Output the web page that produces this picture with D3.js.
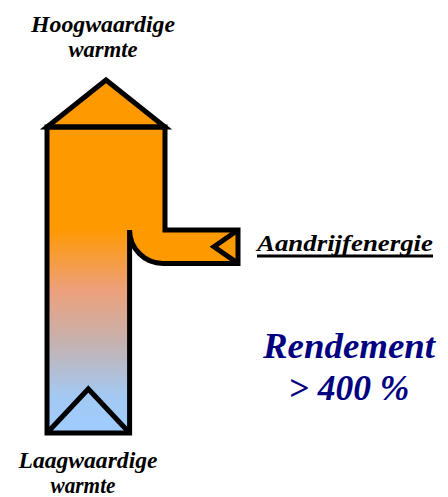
<!DOCTYPE html>
<html lang="en">
<head>
<meta charset="utf-8">
<title>Warmtepomp</title>
<style>
body{
  margin: 0;
  background: #fff;
}
svg text{
  font-family: "Liberation Serif", "Times New Roman", serif;
  font-weight: bold;
  font-style: italic;
  text-anchor: middle;
}
</style>
<script src="https://d3js.org/d3.v7.min.js"></script>
</head>
<body>
<div id="chart"></div>
<script>
// flow values (relative units)
var flowNames = ['Laagwaardige warmte', 'Aandrijfenergie', 'Hoogwaardige warmte'];
var flowValues = [7, 3, 10];
var efficiencyLabel = ['Rendement', '> 400 %'];

var width = 448, height = 497;

var svg = d3.select('#chart')
  .append('svg')
  .attr('width', width)
  .attr('height', height);

/* horizontal scale: flow units -> pixels */
var xScale = d3.scaleLinear()
  .domain([0, flowValues[2]])
  .range([47, 165]);

/* vertical positions of the diagram parts */
var yScale = d3.scaleLinear()
  .domain([0, 1])
  .range([127, 433]);

var xLeft = xScale(0),
    xSplit = xScale(flowValues[0]),
    xRight = xScale(flowValues[0] + flowValues[1]),
    armTop = 230,
    armH = xRight - xSplit - 2,
    armBot = armTop + armH,
    armEnd = 238,
    yTop = yScale(0),
    yBot = yScale(1);

// gradient from hot to cold
var defs = svg.append('defs');
var grad = defs.append('linearGradient')
  .attr('id', 'heat')
  .attr('gradientUnits', 'userSpaceOnUse')
  .attr('x1', 0).attr('x2', 0)
  .attr('y1', 228).attr('y2', yBot);
var stops = [
  [0, '#FF9900'], [0.3, '#EDA07A'], [0.55, '#C7B1AE'], [0.82, '#A3C9F3'], [1, '#9FCCFF']
];
grad.selectAll('stop')
  .data(stops)
  .enter()
  .append('stop')
  .attr('offset', function(d) { return d[0]; })
  .attr('stop-color', function(d) { return d[1]; });

var r = armH;

// outline of the whole flow
var outline = d3.path();
outline.moveTo(xLeft, yTop);
outline.lineTo(xRight, yTop);
outline.lineTo(xRight, armTop);
outline.lineTo(armEnd, armTop);
outline.lineTo(armEnd, armBot);
outline.lineTo(xSplit + r, armBot);
outline.arc(xSplit + r, armTop, r, Math.PI / 2, Math.PI, false);
outline.lineTo(xSplit, yBot);
outline.lineTo(xLeft, yBot);
outline.closePath();

// body fill: solid orange, then gradient column
svg.append('path')
  .attr('d', outline.toString())
  .attr('fill', '#FF9900');

svg.append('rect')
  .attr('x', xLeft)
  .attr('y', 228)
  .attr('width', xSplit - xLeft)
  .attr('height', yBot - 228)
  .attr('fill', 'url(#heat)');

// top arrow head
var apex = [(xLeft + xRight) / 2, 80];
svg.append('path')
  .attr('d', 'M' + xLeft + ',' + yTop + 'L' + apex[0] + ',' + apex[1] + 'L' + xRight + ',' + yTop + 'Z')
  .attr('fill', '#FF9900')
  .attr('stroke', '#000')
  .attr('stroke-width', 5)
  .attr('stroke-linejoin', 'miter');

// outline stroke
svg.append('path')
  .attr('d', outline.toString())
  .attr('fill', 'none')
  .attr('stroke', '#000')
  .attr('stroke-width', 5)
  .attr('stroke-linejoin', 'miter');

// bottom chevron (incoming low grade heat)
svg.append('path')
  .attr('d', 'M' + xLeft + ',' + yBot + 'L' + ((xLeft + xSplit) / 2) + ',389L' + xSplit + ',' + yBot)
  .attr('fill', 'none')
  .attr('stroke', '#000')
  .attr('stroke-width', 5);

// side chevron (incoming drive energy)
svg.append('path')
  .attr('d', 'M' + armEnd + ',' + armTop + 'L214,' + ((armTop + armBot) / 2) + 'L' + armEnd + ',' + armBot)
  .attr('fill', 'none')
  .attr('stroke', '#000')
  .attr('stroke-width', 5);

// labels: the original looks stretched sideways, so scale x to fit width
function label(txt, x, y, size, len) {
  var t = svg.append('text')
    .attr('x', 0).attr('y', 0)
    .style('font-size', size + 'px')
    .text(txt);
  var sx = len / t.node().getComputedTextLength();
  t.attr('transform', 'translate(' + x + ',' + y + ') scale(' + sx + ',1)');
  return t;
}

var hiWords = flowNames[2].split(' ');
label(hiWords[0], 103, 32, 23, 144);
label(hiWords[1], 103, 57, 23, 69);

var loWords = flowNames[0].split(' ');
label(loWords[0], 88, 468, 23, 139);
label(loWords[1], 83, 493, 23, 65);

label(flowNames[1], 345, 251, 24, 176);
svg.append('line')
  .attr('x1', 257).attr('x2', 433)
  .attr('y1', 256).attr('y2', 256)
  .attr('stroke', '#000')
  .attr('stroke-width', 3);

efficiencyLabel.forEach(function(d, i) {
  label(d, 349, 358 + i * 42, 35, i === 0 ? 172 : 121)
    .style('fill', '#000080');
});
</script>
</body>
</html>
